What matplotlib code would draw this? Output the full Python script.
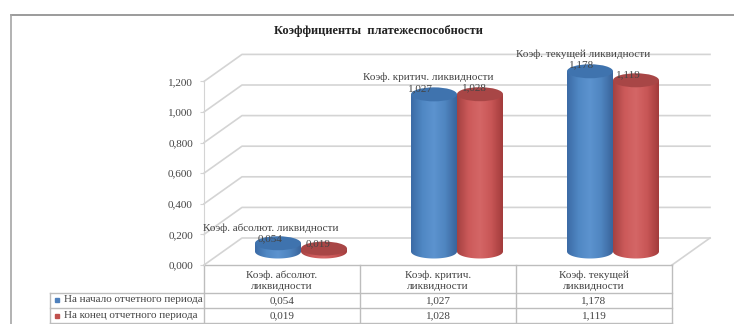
import numpy as np
import matplotlib
matplotlib.use("Agg")
import matplotlib.pyplot as plt
from matplotlib.patches import Ellipse, PathPatch
from matplotlib.path import Path
from matplotlib.colors import LinearSegmentedColormap

plt.rcParams['font.family'] = ['Liberation Serif', 'DejaVu Serif']

title = "Коэффициенты  платежеспособности"
categories = ["Коэф. абсолют.\nликвидности", "Коэф. критич.\nликвидности", "Коэф. текущей\nликвидности"]
point_names = ["Коэф. абсолют. ликвидности", "Коэф. критич. ликвидности", "Коэф. текущей ликвидности"]
series_names = ["На начало отчетного периода", "На конец отчетного периода"]
start_vals = [0.054, 1.027, 1.178]
end_vals = [0.019, 1.028, 1.119]
yticks = [0.0, 0.2, 0.4, 0.6, 0.8, 1.0, 1.2]

# picture geometry, in pixels of the 734x324 image
W, H = 734, 324
X0, PX_CAT = 204, 156
Y0, PX_VAL = 265, 153
DEPTH_X, DEPTH_Y = 38, 27
TXT = "#444444"
LINE = "#d4d4d4"
FS = 8


def fx(p):
    return (p - X0) / PX_CAT


def fy(p):
    return (Y0 - p) / PX_VAL


def fmt(v):
    return f"{v:.3f}".replace(".", ",")


fig = plt.figure(figsize=(W / 100, H / 100), dpi=100)
ax = fig.add_axes([0, 0, 1, 1])
ax.set_xlim(fx(0), fx(W))
ax.set_ylim(fy(H), fy(0))
ax.patch.set_visible(False)

# the value axis itself
for s in ["top", "right", "bottom"]:
    ax.spines[s].set_visible(False)
ax.spines["left"].set_position(("data", 0))
ax.spines["left"].set_bounds(0, 1.2)
ax.spines["left"].set_color(LINE)
ax.set_xticks([])
ax.set_yticks(yticks)
ax.set_yticklabels([fmt(t) for t in yticks], fontsize=FS, color=TXT)
ax.tick_params(axis="y", length=3, width=0.8, color=LINE, pad=5)

# walls
dx = DEPTH_X / PX_CAT
dv = DEPTH_Y / PX_VAL
for t in yticks:
    ax.plot([0, dx, 3 + dx], [t, t + dv, t + dv], color=LINE, lw=1.2, zorder=1)
ax.plot([3, 3 + dx], [0, dv], color=LINE, lw=1.2, zorder=1)

blues = LinearSegmentedColormap.from_list("b", ["#3c6ba6", "#5088c4", "#5c93cf", "#4f85c0", "#3a659c"])
reds = LinearSegmentedColormap.from_list("r", ["#a54242", "#cc5a5a", "#d46666", "#c85656", "#a33c3c"])
grad = np.linspace(0, 1, 64).reshape(1, -1)


def cylinder(xc, val, cmap, top_col, z):
    half = 23 / PX_CAT
    eh = 14 / PX_VAL
    base = dv / 2
    top = base + val
    # body: side rectangle plus lower half of the base ellipse
    th = np.linspace(np.pi, 2 * np.pi, 40)
    pts = [(xc - half, top)]
    pts += list(zip(xc + half * np.cos(th), base + eh / 2 * np.sin(th)))
    pts += [(xc + half, top)]
    body = PathPatch(Path(pts + [pts[0]], closed=True), fc="none", ec="none", zorder=z)
    ax.add_patch(body)
    im = ax.imshow(grad, cmap=cmap, aspect="auto", zorder=z,
                   extent=[xc - half, xc + half, base - eh, top + eh], interpolation="bilinear")
    im.set_clip_path(body)
    ax.add_patch(Ellipse((xc, top), 2 * half, eh, fc=top_col, ec="none", zorder=z + 0.1))


for i in range(3):
    c = i + 0.5 + dx / 2
    cylinder(c - 23 / PX_CAT, start_vals[i], blues, "#3f73ae", 3)
    cylinder(c + 23 / PX_CAT, end_vals[i], reds, "#a84646", 4)
ax.set_xlim(fx(0), fx(W))
ax.set_ylim(fy(H), fy(0))

# data labels
name_pos = [(271, 228), (428, 77), (583, 54)]
start_pos = [(270, 239), (420, 89), (582, 65)]
end_pos = [(318, 244), (474, 88), (628, 75)]
for i in range(3):
    ax.text(fx(name_pos[i][0]), fy(name_pos[i][1]), point_names[i], fontsize=FS, color=TXT,
            ha="center", va="center", zorder=6)
    ax.text(fx(start_pos[i][0]), fy(start_pos[i][1]), fmt(start_vals[i]), fontsize=FS, color=TXT,
            ha="center", va="center", zorder=6)
    ax.text(fx(end_pos[i][0]), fy(end_pos[i][1]), fmt(end_vals[i]), fontsize=FS, color=TXT,
            ha="center", va="center", zorder=6)

ax.text(fx(378), fy(31), title, fontsize=9, fontweight="bold", color="#222222", ha="center", va="center")

# data table under the plot
col_x = [50, 204, 360, 516, 672]
row_y = [265, 293, 308, 323]
for y, x_from in zip(row_y, [204, 50, 50, 50]):
    ax.plot([fx(x_from), fx(672)], [fy(y), fy(y)], color="#bdbdbd", lw=1.0, zorder=2)
for x, y_from in zip(col_x, [293, 265, 265, 265, 265]):
    ax.plot([fx(x), fx(x)], [fy(y_from), fy(323)], color="#bdbdbd", lw=1.0, zorder=2)

for i in range(3):
    mid = (col_x[i + 1] + col_x[i + 2]) / 2
    ax.text(fx(mid), fy(281), categories[i], fontsize=FS, color=TXT, ha="center", va="center",
            linespacing=1.3)
    ax.text(fx(mid), fy(301), fmt(start_vals[i]), fontsize=FS, color=TXT, ha="center", va="center")
    ax.text(fx(mid), fy(316), fmt(end_vals[i]), fontsize=FS, color=TXT, ha="center", va="center")

ax.plot([fx(57)], [fy(300)], "s", ms=2.8, color="#4f81bd")
ax.plot([fx(57)], [fy(316)], "s", ms=2.8, color="#c0504d")
ax.text(fx(64), fy(300), series_names[0], fontsize=FS, color=TXT, ha="left", va="center")
ax.text(fx(64), fy(316), series_names[1], fontsize=FS, color=TXT, ha="left", va="center")

# outer frame of the embedded chart
ax.plot([fx(11), fx(W)], [fy(15), fy(15)], color="#8a8a8a", lw=1.2)
ax.plot([fx(11), fx(11)], [fy(15), fy(H)], color="#a5a5a5", lw=1.2)

fig.savefig("out.png", dpi=100)
